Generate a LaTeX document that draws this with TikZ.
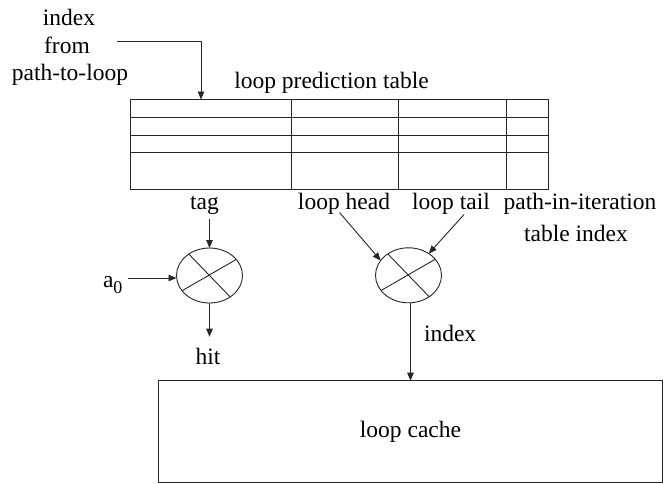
\documentclass[tikz,border=0pt]{standalone}
\usepackage{fontspec}
\setmainfont{Liberation Serif}
\usetikzlibrary{arrows.meta,shapes.geometric}
\begin{document}
\begin{tikzpicture}[x=1pt,y=-1pt,
  lbl/.style={font=\fontsize{23.5}{27.5}\selectfont, inner sep=0pt, outer sep=0pt},
  wire/.style={line width=0.9pt, draw=black!85},
  arr/.style={wire, -{Triangle[length=8pt,width=6.5pt]}},
  mux/.style={ellipse, draw=black!85, line width=0.9pt, minimum width=66pt,
              minimum height=55pt, inner sep=0pt, outer sep=0pt},
  box/.style={rectangle, draw=black!85, line width=0.9pt, inner sep=0pt, outer sep=0pt}]
\useasboundingbox (0,0) rectangle (666,483);

% source of the table index
\node[lbl, anchor=base] (src1) at (69,25) {index};
\node[lbl, anchor=base] (src2) at (67,53) {from};
\node[lbl, anchor=base] (src3) at (70,80) {path-to-loop};
\coordinate (srcout) at (117,41);

% loop prediction table
\node[lbl, anchor=base] (title) at (331.5,88) {loop prediction table};
\node[box, minimum width=418pt, minimum height=89.5pt] (tbl) at (339,144.25) {};
\foreach \r in {117,135,152.7}
  \draw[wire] (tbl.west |- 0,\r) -- (tbl.east |- 0,\r);
\foreach \c in {291,398.7,506.7}
  \draw[wire] (tbl.north -| \c,0) -- (tbl.south -| \c,0);
\coordinate (tin) at (201,99.5);
\draw[arr] (srcout) -| (tin);

% field labels
\node[lbl, anchor=base] (tag)  at (204.5,209.5) {tag};
\node[lbl, anchor=base] (head) at (344,209.5) {loop head};
\node[lbl, anchor=base] (tail) at (451,209.5) {loop tail};
\node[lbl, anchor=base] (pit1) at (580,209.5) {path-in-iteration};
\node[lbl, anchor=base] (pit2) at (576,241.5) {table index};

% comparator for the tag
\node[mux] (m1) at (209.5,275.5) {};
\draw[wire] (m1.134) -- (m1.-46);
\draw[wire] (m1.209) -- (m1.31);
\node[lbl, anchor=base west] (a0) at (103,287.7)
  {a\raisebox{-5.6pt}{\fontsize{18}{18}\selectfont 0}};
\coordinate (a0out) at (128,278);
\node[lbl, anchor=base] (hit) at (208,364) {hit};
\draw[arr, shorten <=4.5pt] (tag.south -| m1.north) -- (m1.north);
\draw[arr] (a0out) -- (a0out -| m1.west);
\draw[arr, shorten >=11pt] (m1.south) -- (m1.south |- hit.north);

% index combiner
\node[mux] (m2) at (408.5,275.3) {};
\draw[wire] (m2.134) -- (m2.-46);
\draw[wire] (m2.209) -- (m2.31);
\draw[arr] ([xshift=-4.5pt,yshift=2pt]head.south) -- (m2.152);
\draw[arr] ([xshift=13pt]tail.south) -- (m2.47);

% loop cache
\node[box, minimum width=503.6pt, minimum height=101.3pt, lbl, draw=black!85,
      line width=0.9pt] (cache) at (410.5,431.35) {loop cache};
\node[lbl, anchor=base west] (idx) at (424,341.7) {index};
\draw[arr] (m2.south -| cache.north) -- (cache.north);
\end{tikzpicture}
\end{document}
